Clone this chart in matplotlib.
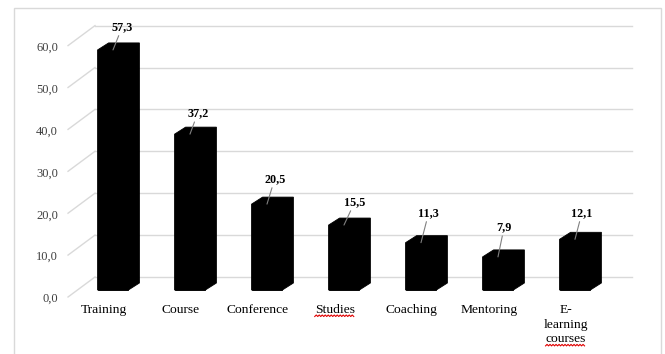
import numpy as np
import matplotlib
matplotlib.use("Agg")
import matplotlib.pyplot as plt
from matplotlib.patches import Polygon, Rectangle
from matplotlib.lines import Line2D

plt.rcParams['font.family'] = ['Liberation Serif', 'DejaVu Serif']

# data
categories = ["Training", "Course", "Conference", "Studies", "Coaching", "Mentoring", "E-\nlearning\ncourses"]
values = [57.3, 37.2, 20.5, 15.5, 11.3, 7.9, 12.1]
yticks = [0, 10, 20, 30, 40, 50, 60]
squiggly = ["Studies", "courses"]   # words marked by the spell checker

# label placement (offsets from bar top, data units)
lab_dx = [0.12, 0.10, 0.10, 0.14, 0.10, 0.08, 0.09]
lab_dy = [5.5, 5.0, 6.0, 5.5, 7.1, 7.1, 6.3]

# 3d look
bar_w = 0.40
dep_x, dep_y = 0.143, 1.67       # bar depth
wall_x0, wall_x1 = -0.234, 6.74  # back wall extent
wall_dy = 3.1                    # back wall lift
front_x, front_dy = -0.584, -1.67
grid_col = "#d9d9d9"

fig = plt.figure(figsize=(6.65, 3.54), dpi=100)
ax = fig.add_axes([0.0194, 0.00325, 0.961, 0.9824])
ax.set_xlim(-1.3, 7.0)
ax.set_ylim(-15, 68)
ax.axis("off")

# gridlines: back wall + diagonal on left wall
for t in yticks:
    ax.plot([wall_x0, wall_x1], [t + wall_dy, t + wall_dy], color=grid_col, lw=1, zorder=1)
    ax.plot([front_x, wall_x0], [t + front_dy, t + wall_dy], color=grid_col, lw=1, zorder=1)
    ax.text(-0.714, t + front_dy - 0.5, f"{t:.1f}".replace(".", ","), ha="right", va="center",
            fontsize=9, color="#404040")

x = np.arange(len(values))
ax.bar(x, values, width=bar_w, color="black", edgecolor="black", lw=0.6, zorder=3)
for xi, v in zip(x, values):
    x0, x1 = xi - bar_w / 2, xi + bar_w / 2
    pts = [(x0, v), (x0 + dep_x, v + dep_y), (x1 + dep_x, v + dep_y),
           (x1 + dep_x, dep_y), (x1, 0), (x0, 0)]
    ax.add_patch(Polygon(pts, closed=True, facecolor="black", edgecolor="black", lw=0.6, zorder=3))

# value labels with leader lines
for xi, v, dx, dy in zip(x, values, lab_dx, lab_dy):
    ax.annotate(f"{v:.1f}".replace(".", ","), xy=(xi, v), xytext=(xi + dx, v + dy),
                ha="center", va="center", fontsize=8.7, fontweight="bold", zorder=5,
                arrowprops=dict(arrowstyle="-", color="#808080", lw=0.8, shrinkA=0, shrinkB=0))

# category labels
cat_texts = []
for xi, c in zip(x, categories):
    t = ax.text(xi - 0.12, -3.34, c, ha="center", va="top", fontsize=9.7, linespacing=1.3)
    cat_texts.append(t)

# chart border
fig.patches.append(Rectangle((14 / 665, -0.02), 647 / 665, 346 / 354 + 0.02, transform=fig.transFigure,
                             fill=False, edgecolor=grid_col, lw=1))

# red spell-check squiggles
fig.canvas.draw()
rend = fig.canvas.get_renderer()
for t, c in zip(cat_texts, categories):
    last = c.split("\n")[-1]
    if last not in squiggly:
        continue
    bb = t.get_window_extent(rend)
    tmp = ax.text(0, 0, last, fontsize=9.7)
    w = tmp.get_window_extent(rend).width
    tmp.remove()
    xc = (bb.x0 + bb.x1) / 2
    xs = np.arange(xc - w / 2, xc + w / 2 + 0.1, 1.5)
    ys = bb.y0 - 0.5 + np.where(np.arange(len(xs)) % 2 == 0, 0.0, 1.5)
    fig.add_artist(Line2D(xs, ys, transform=None, color="#e00000", lw=0.8))

fig.savefig("out.png", dpi=100)
